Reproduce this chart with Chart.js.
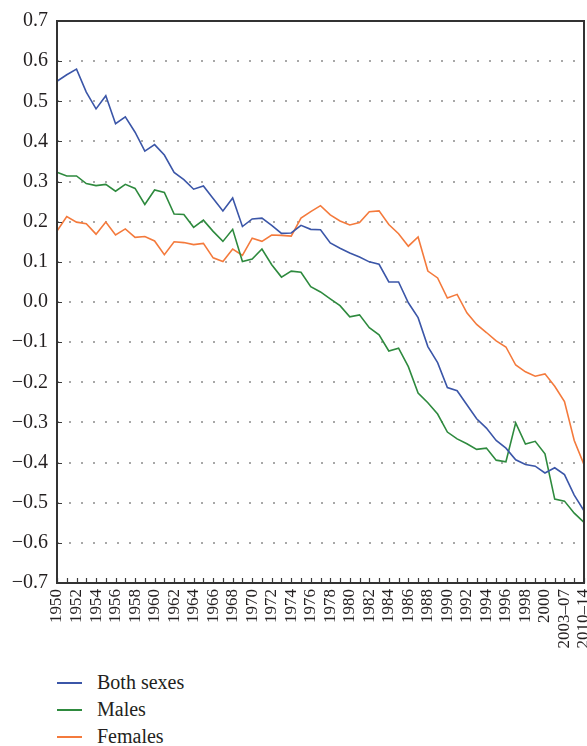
<!DOCTYPE html>
<html>
<head>
<meta charset="utf-8">
<script src="https://cdn.jsdelivr.net/npm/chart.js@4"></script>
<style>
  body { margin: 0; background: #fff; }
  #wrap { position: relative; width: 587px; height: 672px; }
  .legend { margin: -3px 0 0 0; padding: 0 0 0 57px; list-style: none; font-family: "Liberation Serif", serif; font-size: 20px; color: #231f20; }
  .legend li { height: 27px; line-height: 27px; display: flex; align-items: center; }
  .legend .swatch { display: inline-block; width: 25px; height: 2px; margin-right: 15px; }
</style>
</head>
<body>
<div id="wrap"><canvas id="chart"></canvas></div>
<ul class="legend" id="legend"></ul>
<script>
// categories (every other one is labelled on the axis)
const periods = [
  '1950', '1951', '1952', '1953', '1954', '1955', '1956', '1957', '1958', '1959',
  '1960', '1961', '1962', '1963', '1964', '1965', '1966', '1967', '1968', '1969',
  '1970', '1971', '1972', '1973', '1974', '1975', '1976', '1977', '1978', '1979',
  '1980', '1981', '1982', '1983', '1984', '1985', '1986', '1987', '1988', '1989',
  '1990', '1991', '1992', '1993', '1994', '1995', '1996', '1997', '1998', '1999',
  '2000', '2001–02', '2003–07', '2008–09', '2010–14'
];

const bothSexes = [
  0.550, 0.566, 0.580, 0.523, 0.481, 0.514, 0.444, 0.461, 0.423, 0.376,
  0.392, 0.366, 0.323, 0.305, 0.281, 0.289, 0.258, 0.227, 0.259, 0.188,
  0.207, 0.209, 0.191, 0.171, 0.172, 0.191, 0.181, 0.180, 0.147, 0.134,
  0.122, 0.112, 0.100, 0.094, 0.050, 0.050, -0.002, -0.039, -0.111, -0.151,
  -0.213, -0.221, -0.256, -0.291, -0.314, -0.345, -0.364, -0.393, -0.405, -0.409,
  -0.426, -0.413, -0.430, -0.481, -0.520
];

const males = [
  0.323, 0.314, 0.314, 0.295, 0.290, 0.293, 0.276, 0.293, 0.283, 0.243,
  0.279, 0.273, 0.219, 0.218, 0.186, 0.204, 0.176, 0.151, 0.181, 0.101,
  0.107, 0.132, 0.093, 0.062, 0.077, 0.074, 0.038, 0.025, 0.008, -0.009,
  -0.037, -0.032, -0.064, -0.082, -0.122, -0.115, -0.161, -0.227, -0.251, -0.279,
  -0.324, -0.341, -0.353, -0.367, -0.364, -0.394, -0.398, -0.301, -0.354, -0.347,
  -0.378, -0.491, -0.496, -0.526, -0.549
];

const females = [
  0.177, 0.213, 0.199, 0.195, 0.169, 0.199, 0.167, 0.182, 0.161, 0.163,
  0.152, 0.118, 0.150, 0.148, 0.143, 0.146, 0.110, 0.101, 0.132, 0.116,
  0.159, 0.151, 0.167, 0.166, 0.164, 0.209, 0.225, 0.240, 0.217, 0.202,
  0.192, 0.198, 0.225, 0.227, 0.193, 0.170, 0.139, 0.162, 0.077, 0.060,
  0.010, 0.019, -0.027, -0.056, -0.076, -0.097, -0.112, -0.157, -0.174, -0.185,
  -0.179, -0.210, -0.248, -0.345, -0.405
];

const seriesNames = ['Both sexes', 'Males', 'Females'];
const seriesColors = ['#3b56a8', '#2e8a3e', '#f47a3c'];
const yMin = -0.7, yMax = 0.7, yStep = 0.1;

const serifFamily = '"Liberation Serif", serif';
const textColor = '#231f20';

Chart.defaults.font.family = serifFamily;
Chart.defaults.color = textColor;

// frame round the plot plus the small inward tick marks
const framePlugin = {
  id: 'frame',
  afterDraw(chart) {
    const { ctx, chartArea: a, scales } = chart;
    ctx.save();
    ctx.setLineDash([]);
    ctx.strokeStyle = '#3a3a3a';
    ctx.lineWidth = 1.2;
    // x ticks pointing up from the bottom
    ctx.beginPath();
    periods.forEach((p, i) => {
      const x = Math.round(scales.x.getPixelForValue(i)) + 0.5;
      ctx.moveTo(x, a.bottom);
      ctx.lineTo(x, a.bottom - 5);
    });
    // y ticks pointing right from the left
    for (let v = yMin; v <= yMax + 1e-9; v += yStep) {
      const y = Math.round(scales.y.getPixelForValue(v)) + 0.5;
      ctx.moveTo(a.left, y);
      ctx.lineTo(a.left + 5, y);
    }
    ctx.stroke();
    ctx.lineWidth = 2;
    ctx.strokeStyle = '#333';
    ctx.strokeRect(a.left, a.top, a.right - a.left, a.bottom - a.top);
    ctx.restore();
  }
};

function drawChart() {
  const datasets = [bothSexes, males, females].map((data, i) => ({
    label: seriesNames[i],
    data: data,
    borderColor: seriesColors[i],
    backgroundColor: seriesColors[i],
    borderWidth: 1.6,
    pointRadius: 0,
    tension: 0,
    fill: false
  }));

  new Chart(document.getElementById('chart'), {
    type: 'line',
    data: { labels: periods, datasets: datasets },
    options: {
      responsive: true,
      maintainAspectRatio: false,
      animation: false,
      layout: { padding: { top: 13, right: 3, left: 0, bottom: 0 } },
      plugins: {
        legend: { display: false },
        tooltip: { enabled: false }
      },
      scales: {
        x: {
          offset: false,
          afterFit(scale) { scale.paddingLeft = 0; scale.paddingRight = 0; scale.height = 89; },
          grid: { display: false, drawTicks: false },
          border: { display: false },
          ticks: {
            autoSkip: false,
            maxRotation: 90,
            minRotation: 90,
            padding: 6,
            color: textColor,
            font: { family: serifFamily, size: 17 },
            callback: (v, i) => (i % 2 === 0 ? periods[i] : '')
          }
        },
        y: {
          min: yMin,
          max: yMax,
          afterFit(scale) { scale.width = 57; },
          grid: { color: '#a8a8a8', lineWidth: 2, drawTicks: false },
          border: { display: false, dash: [2, 10] },
          ticks: {
            stepSize: yStep,
            padding: 9,
            color: textColor,
            font: { family: serifFamily, size: 20 },
            callback: (v) => {
              const r = Math.round(v * 10) / 10;
              return (r < 0 ? '\u2212' : '') + Math.abs(r).toFixed(1);
            }
          }
        }
      }
    },
    plugins: [framePlugin]
  });
}

// legend below the chart, one entry per line
document.getElementById('legend').innerHTML = seriesNames.map((name, i) => `
  <li><span class="swatch" style="background:${seriesColors[i]}"></span>${name}</li>
`).join('');

// make sure the serif face is ready before the canvas text is drawn
Promise.all([
  document.fonts.load('17px "Liberation Serif"'),
  document.fonts.load('20px "Liberation Serif"')
]).then(drawChart, drawChart);
</script>
</body>
</html>
